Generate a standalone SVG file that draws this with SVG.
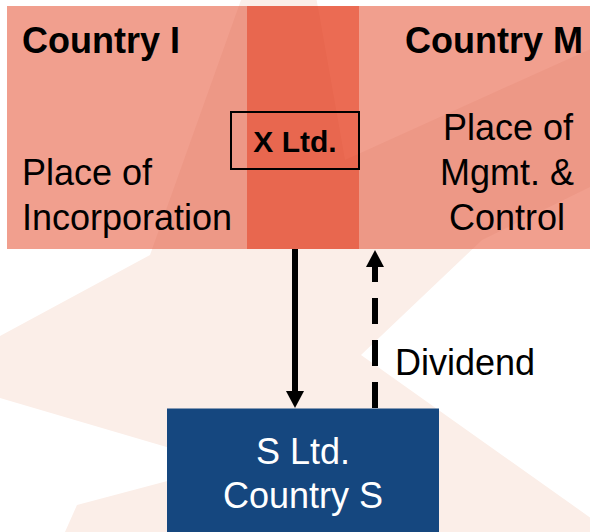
<svg xmlns="http://www.w3.org/2000/svg" width="590" height="532" viewBox="0 0 590 532">
  <defs>
    <style>
      text { font-family: "Liberation Sans", Arial, sans-serif; fill: #000; }
      .b { font-weight: bold; }
      .t36 { font-size: 36px; }
      .w { fill: #fff; }
      .region { fill: #f19f8e; }
      .mid { fill: #eb6b53; }
      .wm { fill: #fbeee8; }
      .wm-over { fill: #c03010; fill-opacity: 0.06; }
      .conn { stroke: #000; stroke-width: 6; fill: none; }
    </style>
    <polygon id="star" points="290,-150 345,160 650,22 650,153 590,187 482,240 361,355 650,560 650,600 50,600 65,532 77,505 205,471 170,448 0,398 -60,368 0,336 150,255 241,0"/>
    <clipPath id="bandClip">
      <rect x="7" y="6" width="583" height="243"/>
    </clipPath>
    <marker id="arrow" markerUnits="userSpaceOnUse" viewBox="0 0 18 18" markerWidth="18" markerHeight="18" refX="0" refY="9" orient="auto">
      <path d="M0,0 L17,9 L0,18 z" fill="#000"/>
    </marker>
  </defs>
  <rect width="590" height="532" fill="#fff"/>

  <g id="watermark-under">
    <use href="#star" class="wm"/>
  </g>

  <g id="band">
    <rect class="region" x="7" y="6" width="583" height="243"/>
    <rect class="mid" x="247" y="6" width="112" height="243"/>
  </g>

  <g id="watermark-over" clip-path="url(#bandClip)">
    <use href="#star" class="wm-over"/>
  </g>

  <g id="country-i">
    <text class="b t36" x="22" y="53">Country I</text>
    <text class="t36" x="22" y="185">Place of</text>
    <text class="t36" x="22" y="230">Incorporation</text>
  </g>

  <g id="country-m">
    <text class="b t36" x="583" y="53" text-anchor="end">Country M</text>
    <text class="t36" x="508" y="140" text-anchor="middle">Place of</text>
    <text class="t36" x="507" y="185" text-anchor="middle">Mgmt. &amp;</text>
    <text class="t36" x="507" y="230" text-anchor="middle">Control</text>
  </g>

  <g id="x-ltd">
    <rect x="231" y="112" width="128" height="57" fill="none" stroke="#000" stroke-width="2"/>
    <text class="b" x="295" y="152" font-size="30" text-anchor="middle">X Ltd.</text>
  </g>

  <g id="s-ltd">
    <rect x="167" y="408.5" width="272" height="130" fill="#15477f"/>
    <text class="t36 w" x="303" y="464" text-anchor="middle">S Ltd.</text>
    <text class="t36 w" x="303" y="508" text-anchor="middle">Country S</text>
  </g>

  <g id="connectors">
    <line class="conn" x1="295" y1="249" x2="295" y2="391" marker-end="url(#arrow)"/>
    <line class="conn" x1="375" y1="408" x2="375" y2="267" stroke-dasharray="26 16" marker-end="url(#arrow)"/>
    <text class="t36" x="395" y="375">Dividend</text>
  </g>
</svg>
